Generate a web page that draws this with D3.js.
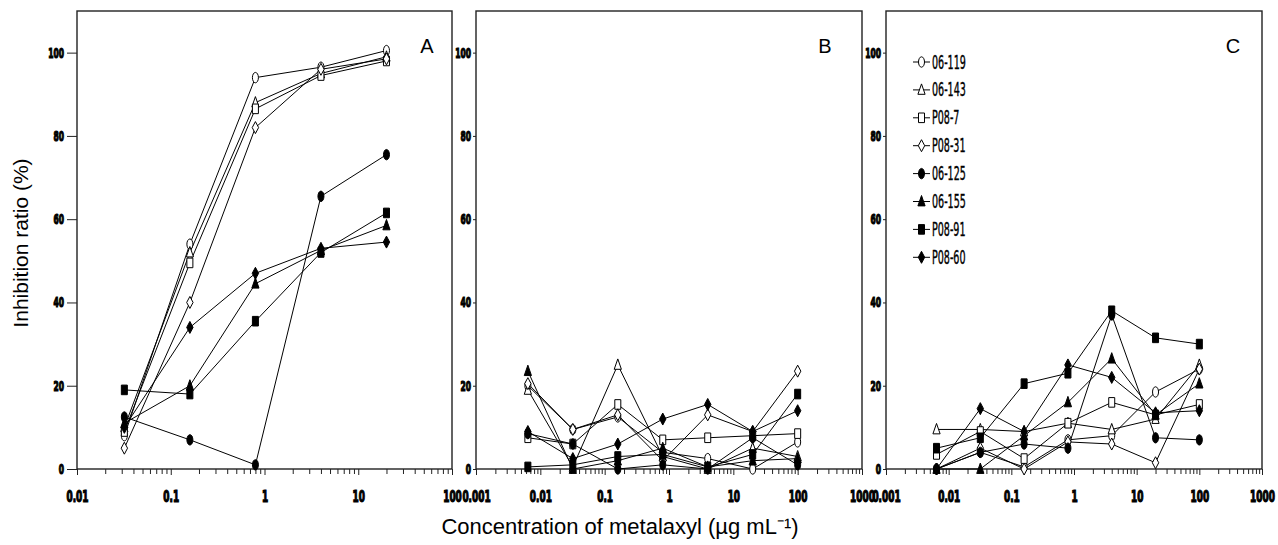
<!DOCTYPE html>
<html><head><meta charset="utf-8">
<script src="https://cdn.jsdelivr.net/npm/d3@7"></script>
<style>body{margin:0;background:#fff}</style>
</head><body><svg id="c" width="1278" height="545"></svg>
<script>
// ---------- DATA ----------
const isolates = ["06-119","06-143","P08-7","P08-31","06-125","06-155","P08-91","P08-60"];
const concA  = [0.032, 0.16, 0.8, 4, 20];
const concBC = [0.0064, 0.032, 0.16, 0.8, 4, 20, 100];
const panelA = [
  [8, 54, 94, 96.5, 100.5],
  [10, 52, 88, 95, 99],
  [9, 49.5, 86.5, 94.5, 98],
  [5, 40, 82, 96, 98.5],
  [12.5, 7, 1, 65.5, 75.5],
  [11, 20, 44.5, 52.5, 58.5],
  [19, 18, 35.5, 52, 61.5],
  [10, 34, 47, 53, 54.5]
];
const panelB = [
  [20, 9.5, 12.5, 4, 2.5, 0, 6.5],
  [19, 0.5, 25, 3, 0, 5, 3],
  [7.5, 6, 15.5, 7, 7.5, 8, 8.5],
  [20.5, 9.5, 13, 2, 13, 9, 23.5],
  [8.5, 6, 0, 1, 0, 7.5, 1],
  [23.5, 0, 2, 5, 0.5, 2, 2.5],
  [0.5, 1, 3, 3.5, 0.5, 3.5, 18],
  [9, 2.5, 6, 12, 15.5, 9, 14]
];
const panelC = [
  [0, 4, 0.5, 7, 8, 18.5, 24],
  [9.5, 9.5, 9, 11, 9.5, 12, 25],
  [3.5, 9, 2.5, 11, 16, 13, 15.5],
  [0, 5, 0, 6.5, 6, 1.5, 24],
  [0, 4, 6, 5, 37, 7.5, 7],
  [0, 0, 8, 16, 26.5, 13, 20.5],
  [5, 7.5, 20.5, 23, 38, 31.5, 30],
  [0, 14.5, 9, 25, 22, 13.5, 14]
];
const yTickValues = [0, 20, 40, 60, 80, 100];
const decadesA  = [0.01, 0.1, 1, 10, 100];
const decadesBC = [0.001, 0.01, 0.1, 1, 10, 100, 1000];
const tickLabelsA  = ["0.01","0.1","1","10","100"];
const tickLabelsBC = ["0.001","0.01","0.1","1","10","100","1000"];
const panelLetters = ["A","B","C"];
const yTitle = "Inhibition ratio (%)";
const xTitle = "Concentration of metalaxyl (\u00b5g mL\u207b\u00b9)";

// ---------- LAYOUT ----------
const svg = d3.select("#c");
const yTop = 11, yBot = 469;
const y = d3.scaleLinear().domain([0, 110]).range([yBot, yTop]);
const panels = [
  {data: panelA, conc: concA, dec: decadesA, lab: tickLabelsA, x0: 77, x1: 452, tick: 10, pad: 3, lx: 427},
  {data: panelB, conc: concBC, dec: decadesBC, lab: tickLabelsBC, x0: 476, x1: 862, tick: 3, pad: 2, lx: 825},
  {data: panelC, conc: concBC, dec: decadesBC, lab: tickLabelsBC, x0: 886, x1: 1262, tick: 3, pad: 2, lx: 1233, legend: true}
];
const tickFont = "'DejaVu Sans Condensed','DejaVu Sans',sans-serif";

function marker(g, i, cx, cy) {
  const shape = i % 4, filled = i >= 4;
  const fill = filled ? "#000" : "#fff";
  let el;
  if (shape === 0) {
    el = g.append("ellipse").attr("cx", cx).attr("cy", cy).attr("rx", 3).attr("ry", 5.2);
  } else {
    const p = [
      null,
      "M0,-6L3.6,4.4L-3.6,4.4Z",
      "M-3,-4.8H3V4.8H-3Z",
      "M0,-6L3.2,0L0,6L-3.2,0Z"
    ][shape];
    el = g.append("path").attr("d", p).attr("transform", `translate(${cx},${cy})`);
  }
  el.attr("fill", fill).attr("stroke", "#000").attr("stroke-width", 1);
}

panels.forEach((P, pi) => {
  const x = d3.scaleLog().domain([P.dec[0], P.dec[P.dec.length - 1]]).range([P.x0, P.x1]);
  const g = svg.append("g");

  // frame
  g.append("rect").attr("x", P.x0).attr("y", yTop).attr("width", P.x1 - P.x0).attr("height", yBot - yTop)
    .attr("fill", "none").attr("stroke", "#222").attr("stroke-width", 1.4);

  // y axis
  const ya = g.append("g").attr("transform", `translate(${P.x0},0)`)
    .call(d3.axisLeft(y).tickValues(yTickValues).tickSize(P.tick).tickPadding(P.pad).tickFormat(d3.format("d")));
  ya.select(".domain").remove();
  ya.selectAll("line").attr("stroke", "#222");
  ya.selectAll("text").each(function () {
    const t = d3.select(this), xx = +t.attr("x");
    t.attr("x", 0).attr("transform", `translate(${xx},0) scale(0.6,1)`);
  }).attr("font-family", tickFont).attr("font-weight", "bold").attr("font-size", 14)
    .attr("fill", "#000").attr("stroke", "#000").attr("stroke-width", 1.2);

  // x axis major ticks + labels
  const xa = g.append("g").attr("transform", `translate(0,${yBot})`)
    .call(d3.axisBottom(x).tickValues(P.dec).tickSize(6).tickPadding(16)
      .tickFormat((d, i) => P.lab[i]));
  xa.select(".domain").remove();
  xa.selectAll("line").attr("stroke", "#222");
  xa.selectAll("text").each(function () {
    const t = d3.select(this), yy = +t.attr("y");
    t.attr("y", 0).attr("transform", `translate(0,${yy}) scale(0.62,1)`);
  }).attr("font-family", tickFont).attr("font-weight", "bold").attr("font-size", 16)
    .attr("fill", "#000").attr("stroke", "#000").attr("stroke-width", 1.2);

  // minor ticks
  const minors = [];
  P.dec.slice(0, -1).forEach(d => { for (let k = 2; k <= 9; k++) minors.push(d * k); });
  const xm = g.append("g").attr("transform", `translate(0,${yBot})`)
    .call(d3.axisBottom(x).tickValues(minors).tickSize(5).tickFormat(""));
  xm.select(".domain").remove();
  xm.selectAll("line").attr("stroke", "#222");

  // lines
  const line = d3.line().x((d, i) => x(P.conc[i])).y(d => y(d));
  P.data.forEach(series => {
    g.append("path").attr("d", line(series)).attr("fill", "none").attr("stroke", "#000").attr("stroke-width", 1);
  });
  // markers
  P.data.forEach((series, si) => {
    series.forEach((v, k) => marker(g, si, x(P.conc[k]), y(v)));
  });

  // panel letter
  g.append("text").attr("x", P.lx).attr("y", 53).attr("text-anchor", "middle")
    .attr("font-family", "'Liberation Sans',Arial,sans-serif").attr("font-size", 20).text(panelLetters[pi]);

  // legend
  if (P.legend) {
    const lg = g.append("g");
    isolates.forEach((name, i) => {
      const yy = 62 + i * 27.9;
      lg.append("line").attr("x1", 913).attr("x2", 930).attr("y1", yy).attr("y2", yy).attr("stroke", "#000");
      marker(lg, i, 921.5, yy);
      lg.append("text").attr("transform", `translate(932,${yy + 6.5}) scale(0.56,1)`)
        .attr("font-family", tickFont).attr("font-size", 19).attr("stroke", "#000").attr("stroke-width", 0.4)
        .text(name);
    });
  }
});

// axis titles
svg.append("text").attr("transform", "translate(28,243) rotate(-90)").attr("text-anchor", "middle")
  .attr("font-family", "'Liberation Sans',Arial,sans-serif").attr("font-size", 21).text(yTitle);
svg.append("text").attr("x", 620).attr("y", 534).attr("text-anchor", "middle")
  .attr("font-family", "'Liberation Sans',Arial,sans-serif").attr("font-size", 22).text(xTitle);
</script>
</body></html>
